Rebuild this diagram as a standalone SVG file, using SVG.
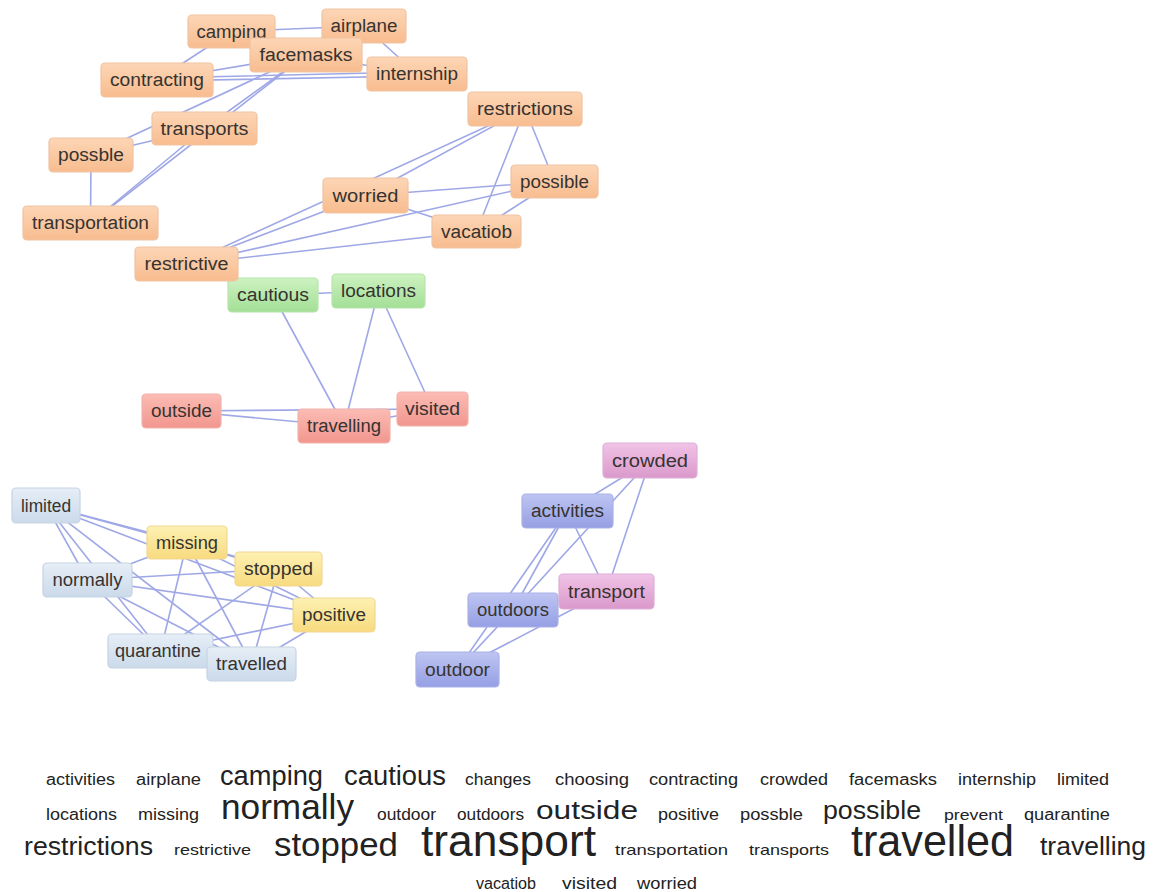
<svg xmlns="http://www.w3.org/2000/svg" width="1162" height="892" viewBox="0 0 1162 892">
  <defs>
    <linearGradient id="g-orange" x1="0" y1="0" x2="0" y2="1"><stop offset="0" stop-color="#fdd6b6"/><stop offset="1" stop-color="#f8bc8f"/></linearGradient>
    <linearGradient id="g-green" x1="0" y1="0" x2="0" y2="1"><stop offset="0" stop-color="#cdf2c1"/><stop offset="1" stop-color="#a3df96"/></linearGradient>
    <linearGradient id="g-red" x1="0" y1="0" x2="0" y2="1"><stop offset="0" stop-color="#fbbcb4"/><stop offset="1" stop-color="#f1968e"/></linearGradient>
    <linearGradient id="g-grey" x1="0" y1="0" x2="0" y2="1"><stop offset="0" stop-color="#e6eef7"/><stop offset="1" stop-color="#cbdaea"/></linearGradient>
    <linearGradient id="g-yellow" x1="0" y1="0" x2="0" y2="1"><stop offset="0" stop-color="#fdf1b2"/><stop offset="1" stop-color="#f8da7f"/></linearGradient>
    <linearGradient id="g-blue" x1="0" y1="0" x2="0" y2="1"><stop offset="0" stop-color="#bec5f2"/><stop offset="1" stop-color="#959fe4"/></linearGradient>
    <linearGradient id="g-pink" x1="0" y1="0" x2="0" y2="1"><stop offset="0" stop-color="#f1c3e7"/><stop offset="1" stop-color="#da99cb"/></linearGradient>
  </defs>
  <style>
    .edges line { stroke: #9fa8e6; stroke-width: 1.6; stroke-linecap: round; }
    .node rect { rx: 4px; ry: 4px; stroke-width: 1.2; }
    .node text { font-family: "Liberation Sans", Arial, sans-serif; font-size: 18px; fill: #363330; text-anchor: middle; }
    .orange rect { fill: url(#g-orange); stroke: #efc4a2; }
    .green rect { fill: url(#g-green); stroke: #b8e4ac; }
    .red rect { fill: url(#g-red); stroke: #f0b4ac; }
    .grey rect { fill: url(#g-grey); stroke: #c6d3e2; }
    .yellow rect { fill: url(#g-yellow); stroke: #efd895; }
    .blue rect { fill: url(#g-blue); stroke: #aab1e6; }
    .pink rect { fill: url(#g-pink); stroke: #ddb0d6; }
    .cloud text { font-family: "Liberation Sans", Arial, sans-serif; fill: #222; }
  </style>
  <rect width="1162" height="892" fill="#ffffff"/>

  <!-- connectors -->
  <g class="edges">
    <!-- orange cluster -->
    <line x1="231.5" y1="31.5" x2="364" y2="26"/>
    <line x1="231.5" y1="31.5" x2="157" y2="80"/>
    <line x1="157" y1="80" x2="306" y2="55"/>
    <line x1="157" y1="78" x2="417" y2="72"/>
    <line x1="157" y1="81" x2="417" y2="76"/>
    <line x1="306" y1="55" x2="417" y2="74"/>
    <line x1="364" y1="26" x2="417" y2="74"/>
    <line x1="306" y1="55" x2="90.5" y2="223"/>
    <line x1="306" y1="55" x2="204.5" y2="128.5"/>
    <line x1="306" y1="55" x2="91" y2="155"/>
    <line x1="204.5" y1="128.5" x2="90.5" y2="223"/>
    <line x1="204.5" y1="128.5" x2="91" y2="155"/>
    <line x1="91" y1="155" x2="90.5" y2="223"/>
    <line x1="525" y1="109" x2="365.5" y2="195.5"/>
    <line x1="525" y1="109" x2="186.5" y2="264"/>
    <line x1="525" y1="109" x2="476.5" y2="231.5"/>
    <line x1="525" y1="109" x2="554.5" y2="181.5"/>
    <line x1="365.5" y1="195.5" x2="554.5" y2="181.5"/>
    <line x1="365.5" y1="195.5" x2="476.5" y2="231.5"/>
    <line x1="554.5" y1="181.5" x2="476.5" y2="231.5"/>
    <line x1="186.5" y1="264" x2="365.5" y2="195.5"/>
    <line x1="186.5" y1="264" x2="554.5" y2="181.5"/>
    <line x1="186.5" y1="264" x2="476.5" y2="231.5"/>
    <!-- green / red cluster -->
    <line x1="273" y1="295" x2="378.5" y2="291"/>
    <line x1="273" y1="295" x2="344" y2="426"/>
    <line x1="378.5" y1="291" x2="344" y2="426"/>
    <line x1="378.5" y1="291" x2="432.5" y2="409"/>
    <line x1="181.5" y1="411" x2="344" y2="426"/>
    <line x1="181.5" y1="411" x2="432.5" y2="409"/>
    <line x1="344" y1="426" x2="432.5" y2="409"/>
    <!-- grey / yellow cluster -->
    <line x1="46" y1="505.5" x2="187" y2="542.5"/>
    <line x1="46" y1="505.5" x2="278.5" y2="569"/>
    <line x1="46" y1="505.5" x2="334" y2="615"/>
    <line x1="46" y1="505.5" x2="87.5" y2="580"/>
    <line x1="46" y1="505.5" x2="160.5" y2="651"/>
    <line x1="46" y1="505.5" x2="251.5" y2="664"/>
    <line x1="187" y1="542.5" x2="278.5" y2="569"/>
    <line x1="187" y1="542.5" x2="87.5" y2="580"/>
    <line x1="187" y1="542.5" x2="160.5" y2="651"/>
    <line x1="187" y1="542.5" x2="251.5" y2="664"/>
    <line x1="187" y1="542.5" x2="334" y2="615"/>
    <line x1="87.5" y1="580" x2="278.5" y2="569"/>
    <line x1="87.5" y1="580" x2="334" y2="615"/>
    <line x1="87.5" y1="580" x2="160.5" y2="651"/>
    <line x1="87.5" y1="580" x2="251.5" y2="664"/>
    <line x1="278.5" y1="569" x2="334" y2="615"/>
    <line x1="278.5" y1="569" x2="160.5" y2="651"/>
    <line x1="278.5" y1="569" x2="251.5" y2="664"/>
    <line x1="334" y1="615" x2="160.5" y2="651"/>
    <line x1="334" y1="615" x2="251.5" y2="664"/>
    <line x1="160.5" y1="651" x2="251.5" y2="664"/>
    <!-- blue / pink cluster -->
    <line x1="650" y1="460.5" x2="567.5" y2="511"/>
    <line x1="650" y1="460.5" x2="606.5" y2="591.5"/>
    <line x1="650" y1="460.5" x2="513" y2="610"/>
    <line x1="567.5" y1="511" x2="606.5" y2="591.5"/>
    <line x1="567.5" y1="511" x2="513" y2="610"/>
    <line x1="567.5" y1="511" x2="457.5" y2="669.5"/>
    <line x1="513" y1="610" x2="457.5" y2="669.5"/>
    <line x1="606.5" y1="591.5" x2="457.5" y2="669.5"/>
    <line x1="606.5" y1="591.5" x2="513" y2="610"/>
  </g>

  <!-- green / red cluster nodes -->
  <g id="node-cautious" class="node green"><rect x="228" y="278" width="90" height="34"/><text x="273" y="301" textLength="72" lengthAdjust="spacingAndGlyphs">cautious</text></g>
  <g id="node-locations" class="node green"><rect x="332" y="274" width="93" height="34"/><text x="378.5" y="297" textLength="75" lengthAdjust="spacingAndGlyphs">locations</text></g>
  <g id="node-outside" class="node red"><rect x="142" y="394" width="79" height="34"/><text x="181.5" y="417" textLength="61" lengthAdjust="spacingAndGlyphs">outside</text></g>
  <g id="node-travelling" class="node red"><rect x="298" y="409" width="92" height="34"/><text x="344" y="432" textLength="74" lengthAdjust="spacingAndGlyphs">travelling</text></g>
  <g id="node-visited" class="node red"><rect x="397" y="392" width="71" height="34"/><text x="432.5" y="415" textLength="55" lengthAdjust="spacingAndGlyphs">visited</text></g>

  <!-- orange cluster nodes -->
  <g id="node-camping" class="node orange"><rect x="188" y="15" width="87" height="33"/><text x="231.5" y="38" textLength="70" lengthAdjust="spacingAndGlyphs">camping</text></g>
  <g id="node-airplane" class="node orange"><rect x="322" y="9" width="84" height="34"/><text x="364" y="32" textLength="67" lengthAdjust="spacingAndGlyphs">airplane</text></g>
  <g id="node-facemasks" class="node orange"><rect x="250" y="38" width="112" height="34"/><text x="306" y="61" textLength="93" lengthAdjust="spacingAndGlyphs">facemasks</text></g>
  <g id="node-contracting" class="node orange"><rect x="101" y="63" width="112" height="34"/><text x="157" y="86" textLength="94" lengthAdjust="spacingAndGlyphs">contracting</text></g>
  <g id="node-internship" class="node orange"><rect x="367" y="57" width="100" height="34"/><text x="417" y="80" textLength="82" lengthAdjust="spacingAndGlyphs">internship</text></g>
  <g id="node-transports" class="node orange"><rect x="152" y="112" width="105" height="33"/><text x="204.5" y="135" textLength="88" lengthAdjust="spacingAndGlyphs">transports</text></g>
  <g id="node-restrictions" class="node orange"><rect x="468" y="92" width="114" height="34"/><text x="525" y="115" textLength="96" lengthAdjust="spacingAndGlyphs">restrictions</text></g>
  <g id="node-possble" class="node orange"><rect x="49" y="138" width="84" height="34"/><text x="91" y="161" textLength="66" lengthAdjust="spacingAndGlyphs">possble</text></g>
  <g id="node-transportation" class="node orange"><rect x="23" y="206" width="135" height="34"/><text x="90.5" y="229" textLength="117" lengthAdjust="spacingAndGlyphs">transportation</text></g>
  <g id="node-worried" class="node orange"><rect x="323" y="178" width="85" height="35"/><text x="365.5" y="202" textLength="66" lengthAdjust="spacingAndGlyphs">worried</text></g>
  <g id="node-possible" class="node orange"><rect x="511" y="165" width="87" height="33"/><text x="554.5" y="188" textLength="69" lengthAdjust="spacingAndGlyphs">possible</text></g>
  <g id="node-vacatiob" class="node orange"><rect x="432" y="215" width="89" height="33"/><text x="476.5" y="238" textLength="71" lengthAdjust="spacingAndGlyphs">vacatiob</text></g>
  <g id="node-restrictive" class="node orange"><rect x="135" y="247" width="103" height="34"/><text x="186.5" y="270" textLength="84" lengthAdjust="spacingAndGlyphs">restrictive</text></g>

  <!-- grey / yellow cluster nodes -->
  <g id="node-limited" class="node grey"><rect x="12" y="488" width="68" height="35"/><text x="46" y="512" textLength="50" lengthAdjust="spacingAndGlyphs">limited</text></g>
  <g id="node-normally" class="node grey"><rect x="43" y="563" width="89" height="34"/><text x="87.5" y="586" textLength="70" lengthAdjust="spacingAndGlyphs">normally</text></g>
  <g id="node-missing" class="node yellow"><rect x="147" y="526" width="80" height="33"/><text x="187" y="549" textLength="62" lengthAdjust="spacingAndGlyphs">missing</text></g>
  <g id="node-stopped" class="node yellow"><rect x="235" y="552" width="87" height="34"/><text x="278.5" y="575" textLength="69" lengthAdjust="spacingAndGlyphs">stopped</text></g>
  <g id="node-positive" class="node yellow"><rect x="293" y="598" width="82" height="34"/><text x="334" y="621" textLength="64" lengthAdjust="spacingAndGlyphs">positive</text></g>
  <g id="node-quarantine" class="node grey"><rect x="108" y="634" width="105" height="34"/><text x="158" y="657" textLength="86" lengthAdjust="spacingAndGlyphs">quarantine</text></g>
  <g id="node-travelled" class="node grey"><rect x="207" y="647" width="89" height="34"/><text x="251.5" y="670" textLength="71" lengthAdjust="spacingAndGlyphs">travelled</text></g>

  <!-- blue / pink cluster nodes -->
  <g id="node-crowded" class="node pink"><rect x="603" y="443" width="94" height="35"/><text x="650" y="467" textLength="76" lengthAdjust="spacingAndGlyphs">crowded</text></g>
  <g id="node-activities" class="node blue"><rect x="522" y="494" width="91" height="34"/><text x="567.5" y="517" textLength="73" lengthAdjust="spacingAndGlyphs">activities</text></g>
  <g id="node-outdoors" class="node blue"><rect x="468" y="593" width="90" height="34"/><text x="513" y="616" textLength="72" lengthAdjust="spacingAndGlyphs">outdoors</text></g>
  <g id="node-transport" class="node pink"><rect x="559" y="574" width="95" height="35"/><text x="606.5" y="598" textLength="77" lengthAdjust="spacingAndGlyphs">transport</text></g>
  <g id="node-outdoor" class="node blue"><rect x="416" y="652" width="83" height="35"/><text x="457.5" y="676" textLength="65" lengthAdjust="spacingAndGlyphs">outdoor</text></g>

  <!-- word cloud -->
  <g id="word-cloud" class="cloud">
    <text x="46" y="785" font-size="16" textLength="69" lengthAdjust="spacingAndGlyphs">activities</text>
    <text x="136" y="785" font-size="16" textLength="65" lengthAdjust="spacingAndGlyphs">airplane</text>
    <text x="220" y="785" font-size="27" textLength="103" lengthAdjust="spacingAndGlyphs">camping</text>
    <text x="344" y="785" font-size="27" textLength="102" lengthAdjust="spacingAndGlyphs">cautious</text>
    <text x="465" y="785" font-size="16" textLength="66" lengthAdjust="spacingAndGlyphs">changes</text>
    <text x="555" y="785" font-size="16" textLength="74" lengthAdjust="spacingAndGlyphs">choosing</text>
    <text x="649" y="785" font-size="16" textLength="89" lengthAdjust="spacingAndGlyphs">contracting</text>
    <text x="760" y="785" font-size="16" textLength="68" lengthAdjust="spacingAndGlyphs">crowded</text>
    <text x="849" y="785" font-size="16" textLength="88" lengthAdjust="spacingAndGlyphs">facemasks</text>
    <text x="958" y="785" font-size="16" textLength="78" lengthAdjust="spacingAndGlyphs">internship</text>
    <text x="1057" y="785" font-size="16" textLength="52" lengthAdjust="spacingAndGlyphs">limited</text>

    <text x="46" y="820" font-size="16" textLength="71" lengthAdjust="spacingAndGlyphs">locations</text>
    <text x="138" y="820" font-size="16" textLength="61" lengthAdjust="spacingAndGlyphs">missing</text>
    <text x="221" y="819" font-size="35" textLength="133" lengthAdjust="spacingAndGlyphs">normally</text>
    <text x="377" y="820" font-size="16" textLength="59" lengthAdjust="spacingAndGlyphs">outdoor</text>
    <text x="457" y="820" font-size="16" textLength="67" lengthAdjust="spacingAndGlyphs">outdoors</text>
    <text x="536" y="819" font-size="26" textLength="102" lengthAdjust="spacingAndGlyphs">outside</text>
    <text x="658" y="820" font-size="16" textLength="61" lengthAdjust="spacingAndGlyphs">positive</text>
    <text x="740" y="820" font-size="16" textLength="63" lengthAdjust="spacingAndGlyphs">possble</text>
    <text x="823" y="819" font-size="26" textLength="98" lengthAdjust="spacingAndGlyphs">possible</text>
    <text x="944" y="820" font-size="14" textLength="59" lengthAdjust="spacingAndGlyphs">prevent</text>
    <text x="1024" y="820" font-size="16" textLength="86" lengthAdjust="spacingAndGlyphs">quarantine</text>

    <text x="24" y="855" font-size="25" textLength="129" lengthAdjust="spacingAndGlyphs">restrictions</text>
    <text x="174" y="855" font-size="15" textLength="77" lengthAdjust="spacingAndGlyphs">restrictive</text>
    <text x="274" y="856" font-size="34" textLength="124" lengthAdjust="spacingAndGlyphs">stopped</text>
    <text x="421" y="856" font-size="44" textLength="175" lengthAdjust="spacingAndGlyphs">transport</text>
    <text x="615" y="855" font-size="15" textLength="113" lengthAdjust="spacingAndGlyphs">transportation</text>
    <text x="749" y="855" font-size="15" textLength="80" lengthAdjust="spacingAndGlyphs">transports</text>
    <text x="851" y="856" font-size="44" textLength="163" lengthAdjust="spacingAndGlyphs">travelled</text>
    <text x="1040" y="855" font-size="25" textLength="106" lengthAdjust="spacingAndGlyphs">travelling</text>

    <text x="476" y="889" font-size="16" textLength="60" lengthAdjust="spacingAndGlyphs">vacatiob</text>
    <text x="562" y="889" font-size="16" textLength="55" lengthAdjust="spacingAndGlyphs">visited</text>
    <text x="637" y="889" font-size="16" textLength="60" lengthAdjust="spacingAndGlyphs">worried</text>
  </g>
</svg>
